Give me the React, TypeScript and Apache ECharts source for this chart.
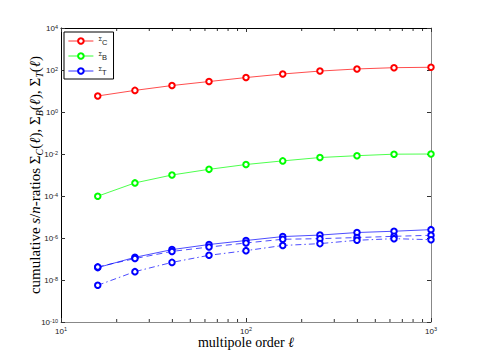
import React, { useEffect, useRef } from "react";
import * as echarts from "echarts";

const multipoles = [15.8, 25.1, 39.8, 63.1, 100, 158, 251, 398, 631, 1000];
const sigmaC = [5.8, 10.7, 18.2, 28.2, 43.7, 64.6, 89, 112, 129, 135];
const sigmaB = [9.8e-5, 4.2e-4, 1.0e-3, 1.86e-3, 3.16e-3, 4.7e-3, 6.8e-3, 8.3e-3, 9.8e-3, 1.0e-2];
const sigmaT = [3.9e-8, 1.2e-7, 2.8e-7, 4.9e-7, 7.6e-7, 1.17e-6, 1.38e-6, 1.82e-6, 2.1e-6, 2.5e-6];
const sigmaTDashed = [4.2e-8, 1.05e-7, 2.3e-7, 3.7e-7, 5.8e-7, 8.7e-7, 9.3e-7, 1.05e-6, 1.2e-6, 1.35e-6];
const sigmaTDashDot = [5.6e-9, 2.5e-8, 6.9e-8, 1.5e-7, 2.5e-7, 4.4e-7, 5.4e-7, 7.8e-7, 9.3e-7, 8.3e-7];
const legendNames = ["Σ_C", "Σ_B", "Σ_T"];
const xRange = [10, 1000];
const yRange = [1e-10, 1e4];

const SANS = "'Liberation Sans', Arial, sans-serif";
const SERIF = "'Liberation Serif', 'Times New Roman', serif";

const powLabel = (v: number) => {
  const e = Math.round(Math.log10(v));
  return `{b|10}{s|${e}}`;
};
const powRich = {
  b: { fontSize: 8, fontFamily: SANS, color: "#222", verticalAlign: "bottom", lineHeight: 9 },
  s: { fontSize: 5.5, fontFamily: SANS, color: "#222", verticalAlign: "top", lineHeight: 9 },
};

const pairs = (ys: number[]) => multipoles.map((x, i) => [x, ys[i]]);

export default function App() {
  const ref = useRef<HTMLDivElement>(null);
  useEffect(() => {
    if (!ref.current) return;
    const chart = echarts.init(ref.current, undefined, { renderer: "svg" });
    const lineSeries = (name: string, data: number[], color: string, type: any) => ({
      name,
      type: "line",
      data: pairs(data),
      symbol: "emptyCircle",
      symbolSize: 5.5,
      color,
      lineStyle: { color, width: 0.7, type },
      itemStyle: { color, borderColor: color, borderWidth: 0.8 },
      emphasis: { disabled: true },
    });
    chart.setOption({
      animation: false,
      backgroundColor: "#fff",
      grid: { left: 53, right: 38, top: 20, bottom: 34 },
      legend: {
        data: legendNames,
        orient: "vertical",
        left: 56,
        top: 24,
        itemWidth: 25,
        itemHeight: 7,
        itemGap: 5,
        padding: [4, 6, 3, 4],
        borderColor: "#000",
        borderWidth: 1,
        backgroundColor: "#fff",
        itemStyle: { borderWidth: 0.8 },
        lineStyle: { width: 0.8 },
        formatter: (n: string) => {
          const sub = n.split("_")[1];
          return `{s|Σ}{c|${sub}}`;
        },
        textStyle: {
          rich: {
            s: { fontSize: 6, fontFamily: SANS, color: "#222", verticalAlign: "top", lineHeight: 10 },
            c: { fontSize: 7.5, fontFamily: SANS, color: "#222", verticalAlign: "bottom", lineHeight: 10 },
          },
        },
      },
      xAxis: [
        {
          type: "log",
          min: xRange[0],
          max: xRange[1],
          position: "bottom",
          axisLine: { lineStyle: { color: "#888", width: 1 } },
          axisTick: { inside: true, length: 4, lineStyle: { color: "#333" } },
          splitLine: { show: false },
          axisLabel: { formatter: powLabel, rich: powRich, margin: 4 },
          name: "multipole order {i|ℓ}",
          nameLocation: "middle",
          nameGap: 13,
          nameMoveOverlap: false,
          nameTextStyle: {
            fontFamily: SERIF,
            fontSize: 14,
            color: "#000",
            verticalAlign: "top",
            lineHeight: 15,
            rich: { i: { fontFamily: SERIF, fontSize: 14, fontStyle: "italic", color: "#000", lineHeight: 15 } },
          },
        },
        {
          type: "log",
          min: xRange[0],
          max: xRange[1],
          position: "top",
          axisLine: { lineStyle: { color: "#000", width: 1 } },
          axisTick: { inside: true, length: 4, lineStyle: { color: "#333" } },
          axisLabel: { show: false },
          splitLine: { show: false },
        },
      ],
      yAxis: [
        {
          type: "log",
          min: yRange[0],
          max: yRange[1],
          interval: 2,
          position: "left",
          axisLine: { show: true, lineStyle: { color: "#000", width: 1 } },
          axisTick: { show: true, inside: true, length: 4, lineStyle: { color: "#333" } },
          splitLine: { show: false },
          axisLabel: { formatter: powLabel, rich: powRich, margin: 3 },
          name: "cumulative {i|s}/{i|n}-ratios Σ{sub|C}({i|ℓ}), Σ{sub|B}({i|ℓ}), Σ{sub|T}({i|ℓ})",
          nameLocation: "middle",
          nameRotate: 90,
          nameGap: 17,
          nameMoveOverlap: false,
          nameTextStyle: {
            fontFamily: SERIF,
            fontSize: 15,
            color: "#000",
            rich: {
              i: { fontFamily: SERIF, fontSize: 15, fontStyle: "italic", color: "#000", verticalAlign: "middle", lineHeight: 18 },
              sub: { fontFamily: SERIF, fontSize: 10, fontStyle: "italic", color: "#000", verticalAlign: "bottom", lineHeight: 18 },
            },
          },
        },
        {
          type: "log",
          min: yRange[0],
          max: yRange[1],
          interval: 2,
          position: "right",
          axisLine: { show: true, lineStyle: { color: "#888", width: 1 } },
          axisTick: { show: true, inside: true, length: 4, lineStyle: { color: "#333" } },
          axisLabel: { show: false },
          splitLine: { show: false },
        },
      ],
      series: [
        lineSeries("Σ_C", sigmaC, "#ff0000", "solid"),
        lineSeries("Σ_B", sigmaB, "#00ff00", "solid"),
        lineSeries("Σ_T", sigmaT, "#0000ff", "solid"),
        lineSeries("Σ_T dashed", sigmaTDashed, "#0000ff", [6, 4]),
        lineSeries("Σ_T dash-dot", sigmaTDashDot, "#0000ff", [6, 3, 1.5, 3]),
      ],
    });

    // log-spaced minor ticks on top/bottom x axes
    const minors: number[] = [];
    for (let d = 10; d < xRange[1]; d *= 10) for (let k = 2; k <= 9; k++) minors.push(k * d);
    const yBottom = chart.convertToPixel({ yAxisIndex: 0 }, yRange[0]) as number;
    const yTop = chart.convertToPixel({ yAxisIndex: 0 }, yRange[1]) as number;
    const elements: any[] = [];
    minors.forEach((m) => {
      const px = chart.convertToPixel({ xAxisIndex: 0 }, m) as number;
      elements.push({ type: "line", shape: { x1: px, y1: yBottom, x2: px, y2: yBottom - 3 }, style: { stroke: "#333", lineWidth: 1 }, silent: true });
      elements.push({ type: "line", shape: { x1: px, y1: yTop, x2: px, y2: yTop + 3 }, style: { stroke: "#333", lineWidth: 1 }, silent: true });
    });
    chart.setOption({ graphic: elements });
    return () => chart.dispose();
  }, []);
  return <div ref={ref} style={{ width: 461, height: 348 }} />;
}
